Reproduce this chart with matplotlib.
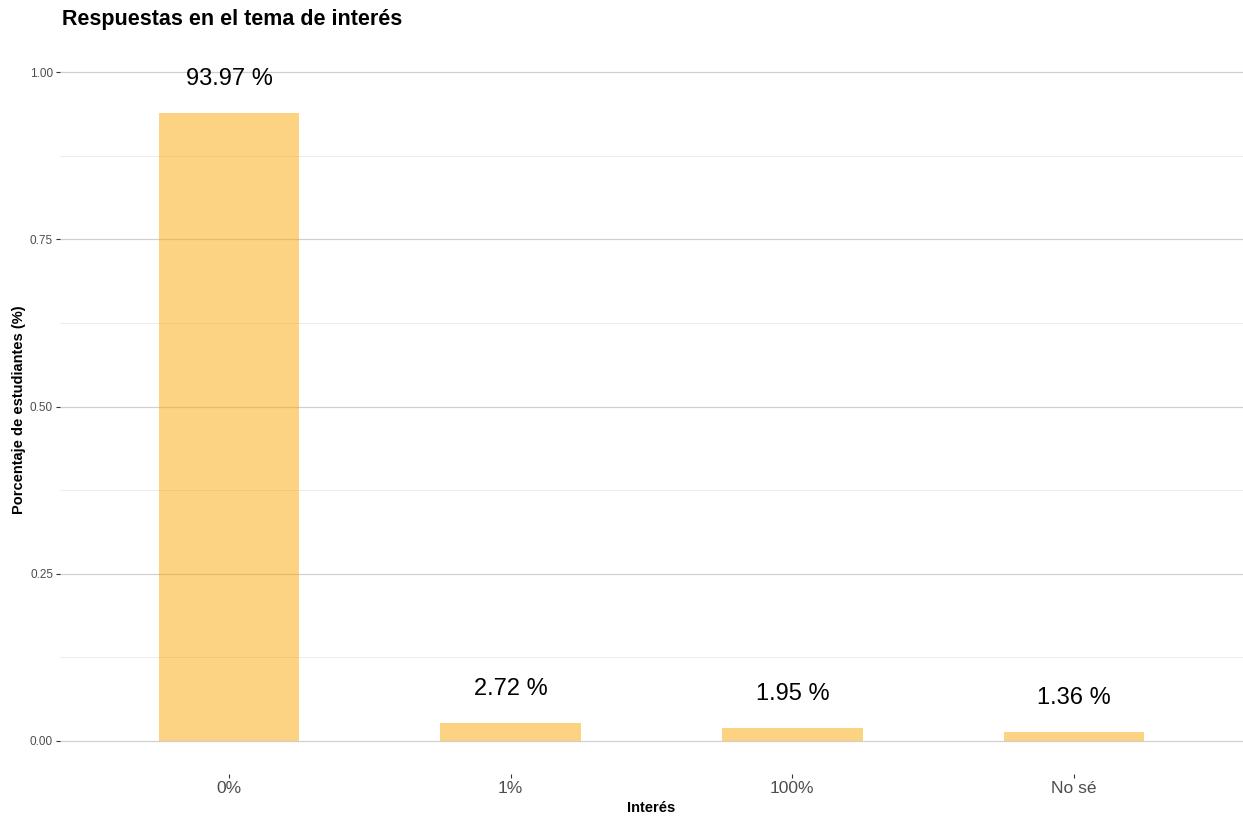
import matplotlib
matplotlib.use("Agg")
import matplotlib.pyplot as plt
from matplotlib.ticker import MultipleLocator

plt.rcParams["font.family"] = ["Liberation Sans", "DejaVu Sans"]

# data
categories = ["0%", "1%", "100%", "No sé"]
shares = [0.9397, 0.0272, 0.0195, 0.0136]
labels = ["93.97 %", "2.72 %", "1.95 %", "1.36 %"]

fig = plt.figure(figsize=(12.43, 8.19), dpi=100)
ax = fig.add_axes([60 / 1243, 1 - 774 / 819, (1243 - 60) / 1243, (774 - 46) / 819])

pos = list(range(len(categories)))
ax.bar(pos, shares, width=0.5, color="#FBA806", alpha=0.5, zorder=3)
for x, v, t in zip(pos, shares, labels):
    ax.text(x, v + 0.05, t, ha="center", va="center", fontsize=17, color="black", zorder=4)

ax.set_xlim(-0.6, 3.6)
top = max(shares) + 0.05
ax.set_ylim(-0.05 * top, top * 1.05)
ax.set_xticks(pos)
ax.set_xticklabels(categories)
ax.yaxis.set_major_locator(MultipleLocator(0.25))
ax.yaxis.set_minor_locator(MultipleLocator(0.125))
ax.yaxis.set_major_formatter(matplotlib.ticker.FormatStrFormatter("%.2f"))

ax.grid(axis="y", which="major", color="#d0d0d0", linewidth=0.9, zorder=0)
ax.grid(axis="y", which="minor", color="#ececec", linewidth=0.7, zorder=0)
ax.tick_params(axis="y", which="minor", length=0)
ax.tick_params(axis="y", which="major", length=3, color="#333333", labelsize=8.5, labelcolor="#4d4d4d", pad=2)
ax.tick_params(axis="x", length=3, color="#333333", labelsize=12.5, labelcolor="#4d4d4d", pad=2)
for s in ax.spines.values():
    s.set_visible(False)

ax.set_xlabel("Interés", fontsize=10.5, fontweight="bold", labelpad=4)
ax.set_ylabel("Porcentaje de estudiantes (%)", fontsize=10.5, fontweight="bold", labelpad=3)
fig.text(62 / 1243, 1 - 20 / 819, "Respuestas en el tema de interés", fontsize=15.5,
         fontweight="bold", ha="left", va="center")

fig.savefig("out.png", dpi=100)
